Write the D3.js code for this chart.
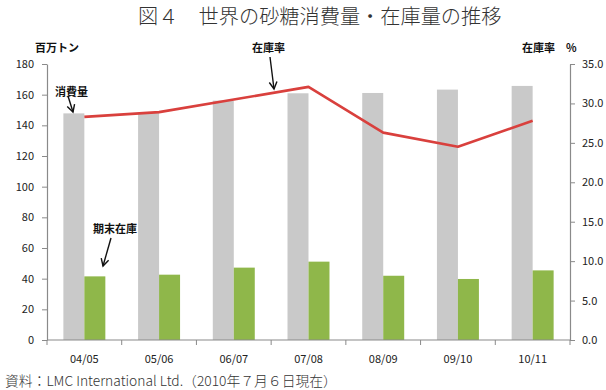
<!DOCTYPE html>
<html>
<head>
<meta charset="utf-8">
<script src="https://cdn.jsdelivr.net/npm/d3@7"></script>
<style>
  html, body { margin: 0; padding: 0; background: #fff; }
  svg { display: block; }
  text { font-family: "Noto Sans CJK JP", "Open Sans", sans-serif; }
</style>
</head>
<body>
<svg id="chart" width="606" height="390"></svg>
<script>
const categories = ["04/05", "05/06", "06/07", "07/08", "08/09", "09/10", "10/11"];
const consumption = [147.8, 148.2, 156.1, 160.9, 161.1, 163.3, 165.7];
const stocks = [41.5, 42.6, 47.2, 51.1, 41.9, 39.8, 45.4];
const stockRatio = [28.3, 28.9, 30.5, 32.1, 26.3, 24.5, 27.8];
const leftTicks = [0, 20, 40, 60, 80, 100, 120, 140, 160, 180];
const rightTicks = [0, 5, 10, 15, 20, 25, 30, 35];
const seriesKeys = ["consumption", "stocks"];

(function () {
const svg = d3.select("#chart");
const pLeft = 47, pRight = 570, pTop = 64, pBottom = 340;

const x = d3.scaleBand().domain(categories).range([pLeft, pRight]).paddingInner(0).paddingOuter(0);
const xs = d3.scaleBand().domain(seriesKeys).range([0, x.bandwidth()]).paddingInner(0).paddingOuter(0.78);
const yL = d3.scaleLinear().domain([0, 180]).range([pBottom, pTop]);
const yR = d3.scaleLinear().domain([0, 35]).range([pBottom, pTop]);

const axisColor = "#8a8a8a";

// Title
svg.append("text").attr("x", 138).attr("y", 24)
  .attr("font-size", 20.2).attr("fill", "#333").attr("font-weight", 300)
  .text("図４　世界の砂糖消費量・在庫量の推移");

// Bars
const colors = { consumption: "#c9c9c9", stocks: "#8fb74a" };
const data = categories.map((c, i) => ({ c, consumption: consumption[i], stocks: stocks[i] }));
const g = svg.append("g");
data.forEach(d => {
  seriesKeys.forEach(k => {
    g.append("rect")
      .attr("x", x(d.c) + xs(k))
      .attr("y", yL(d[k]))
      .attr("width", xs.bandwidth())
      .attr("height", yL(0) - yL(d[k]))
      .attr("fill", colors[k]);
  });
});

// Line
const line = d3.line()
  .x((d, i) => x(categories[i]) + x.bandwidth() / 2)
  .y(d => yR(d));
svg.append("path").datum(stockRatio)
  .attr("d", line).attr("fill", "none")
  .attr("stroke", "#d9403d").attr("stroke-width", 2.6).attr("stroke-linejoin", "round");

// Left axis
const la = svg.append("g").attr("transform", `translate(${pLeft},0)`)
  .call(d3.axisLeft(yL).tickValues(leftTicks).tickSize(5).tickPadding(8).tickSizeOuter(0));
// Right axis
const ra = svg.append("g").attr("transform", `translate(${pRight},0)`)
  .call(d3.axisRight(yR).tickValues(rightTicks).tickSize(5).tickPadding(7).tickSizeOuter(0)
    .tickFormat(d3.format(".1f")));
// Bottom axis
const ba = svg.append("g").attr("transform", `translate(0,${pBottom})`)
  .call(d3.axisBottom(x).tickSize(0).tickPadding(15));
// boundary ticks
const bounds = categories.map(c => x(c)).concat([pRight]);
svg.append("g").selectAll("line").data(bounds).join("line")
  .attr("x1", d => d).attr("x2", d => d)
  .attr("y1", pBottom).attr("y2", pBottom + 5)
  .attr("stroke", axisColor);

[la, ra, ba].forEach(a => {
  a.select(".domain").attr("stroke", axisColor).attr("stroke-width", 1.2);
  a.selectAll(".tick line").attr("stroke", axisColor);
  a.selectAll(".tick text").attr("font-family", "'Open Sans', sans-serif")
    .attr("font-size", 11).attr("fill", "#222");
});
ba.select(".domain").attr("d", `M${pLeft},0H${pRight}`);

// Axis titles
svg.append("text").attr("x", 35).attr("y", 52).attr("font-size", 11).attr("font-weight", "bold")
  .attr("fill", "#111").text("百万トン");
svg.append("text").attr("x", 522).attr("y", 52).attr("font-size", 11).attr("font-weight", "bold")
  .attr("fill", "#111").text("在庫率　%");

// Annotations
function arrow(x1, y1, x2, y2) {
  svg.append("line").attr("x1", x1).attr("y1", y1).attr("x2", x2).attr("y2", y2)
    .attr("stroke", "#111").attr("stroke-width", 1.4);
  const ang = Math.atan2(y2 - y1, x2 - x1);
  const L = 8, w = 0.5;
  const p1 = [x2 - L * Math.cos(ang - w), y2 - L * Math.sin(ang - w)];
  const p2 = [x2 - L * Math.cos(ang + w), y2 - L * Math.sin(ang + w)];
  svg.append("path").attr("d", `M${p1}L${x2},${y2}L${p2}`)
    .attr("fill", "none").attr("stroke", "#111").attr("stroke-width", 1.4);
}
svg.append("text").attr("x", 252).attr("y", 52).attr("font-size", 11).attr("font-weight", "bold")
  .attr("fill", "#111").text("在庫率");
arrow(270, 57, 274, 89);
svg.append("text").attr("x", 55).attr("y", 96).attr("font-size", 11).attr("font-weight", "bold")
  .attr("fill", "#111").text("消費量");
arrow(68, 96, 73, 112);
svg.append("text").attr("x", 93).attr("y", 233).attr("font-size", 11).attr("font-weight", "bold")
  .attr("fill", "#111").text("期末在庫");
arrow(111, 238, 103, 266);

// Source
svg.append("text").attr("x", 5).attr("y", 386).attr("font-size", 13.8).attr("fill", "#333")
  .attr("font-weight", 300)
  .text("資料：LMC International Ltd.（2010年７月６日現在）");
})();
</script>
</body>
</html>
